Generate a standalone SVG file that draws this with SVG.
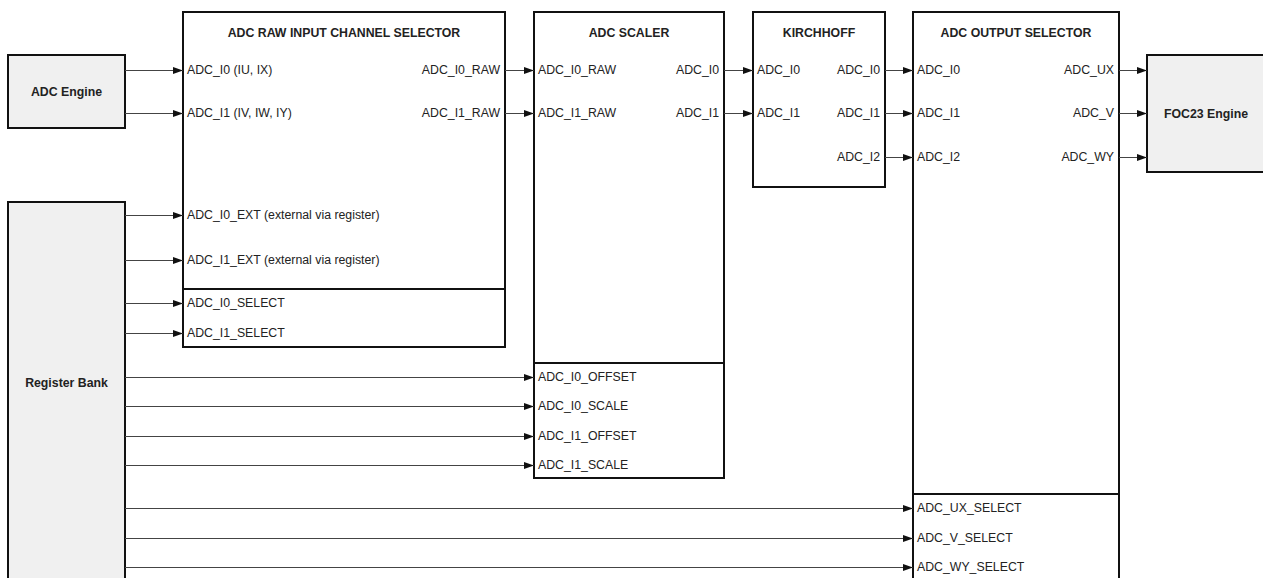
<svg xmlns="http://www.w3.org/2000/svg" width="1263" height="578" viewBox="0 0 1263 578">
  <defs>
    <marker id="arr" markerUnits="userSpaceOnUse" markerWidth="10" markerHeight="7" refX="10" refY="3.5" orient="auto">
      <path d="M0,0 L10,3.5 L0,7 z" fill="#111"/>
    </marker>
    <style>
      .box{fill:#fff;stroke:#111;stroke-width:2}
      .eng{fill:#f0f0f0;stroke:#111;stroke-width:2}
      .div{stroke:#111;stroke-width:2}
      .title{font-family:"Liberation Sans",Arial,sans-serif;font-size:12.3px;font-weight:bold;fill:#222;text-anchor:middle}
      .lbl{font-family:"Liberation Sans",Arial,sans-serif;font-size:12.3px;fill:#222}
      .r{text-anchor:end}
      .conn line{stroke:#444;stroke-width:1;marker-end:url(#arr)}
    </style>
  </defs>
  <rect width="1263" height="578" fill="#fff"/>

  <g id="adc-engine">
    <rect class="eng" x="8" y="55" width="117" height="73"/>
    <text class="title" x="66.5" y="96">ADC Engine</text>
  </g>

  <g id="register-bank">
    <rect class="eng" x="8" y="202" width="117" height="420"/>
    <text class="title" x="66.5" y="387">Register Bank</text>
  </g>

  <g id="raw-selector">
    <rect class="box" x="183" y="12" width="322" height="335"/>
    <line class="div" x1="183" y1="289" x2="505" y2="289"/>
    <text class="title" x="344" y="37">ADC RAW INPUT CHANNEL SELECTOR</text>
    <text class="lbl" x="187" y="74">ADC_I0 (IU, IX)</text>
    <text class="lbl" x="187" y="117">ADC_I1 (IV, IW, IY)</text>
    <text class="lbl" x="187" y="219">ADC_I0_EXT (external via register)</text>
    <text class="lbl" x="187" y="264">ADC_I1_EXT (external via register)</text>
    <text class="lbl" x="187" y="307">ADC_I0_SELECT</text>
    <text class="lbl" x="187" y="337">ADC_I1_SELECT</text>
    <text class="lbl r" x="500" y="74">ADC_I0_RAW</text>
    <text class="lbl r" x="500" y="117">ADC_I1_RAW</text>
  </g>

  <g id="adc-scaler">
    <rect class="box" x="534" y="12" width="190" height="466"/>
    <line class="div" x1="534" y1="363" x2="724" y2="363"/>
    <text class="title" x="629" y="37">ADC SCALER</text>
    <text class="lbl" x="538" y="74">ADC_I0_RAW</text>
    <text class="lbl" x="538" y="117">ADC_I1_RAW</text>
    <text class="lbl r" x="719" y="74">ADC_I0</text>
    <text class="lbl r" x="719" y="117">ADC_I1</text>
    <text class="lbl" x="538" y="381">ADC_I0_OFFSET</text>
    <text class="lbl" x="538" y="410">ADC_I0_SCALE</text>
    <text class="lbl" x="538" y="440">ADC_I1_OFFSET</text>
    <text class="lbl" x="538" y="469">ADC_I1_SCALE</text>
  </g>

  <g id="kirchhoff">
    <rect class="box" x="753" y="12" width="132" height="175"/>
    <text class="title" x="819" y="37">KIRCHHOFF</text>
    <text class="lbl" x="757" y="74">ADC_I0</text>
    <text class="lbl" x="757" y="117">ADC_I1</text>
    <text class="lbl r" x="880" y="74">ADC_I0</text>
    <text class="lbl r" x="880" y="117">ADC_I1</text>
    <text class="lbl r" x="880" y="161">ADC_I2</text>
  </g>

  <g id="output-selector">
    <rect class="box" x="913" y="12" width="206" height="620"/>
    <line class="div" x1="913" y1="494" x2="1119" y2="494"/>
    <text class="title" x="1016" y="37">ADC OUTPUT SELECTOR</text>
    <text class="lbl" x="917" y="74">ADC_I0</text>
    <text class="lbl" x="917" y="117">ADC_I1</text>
    <text class="lbl" x="917" y="161">ADC_I2</text>
    <text class="lbl r" x="1114" y="74">ADC_UX</text>
    <text class="lbl r" x="1114" y="117">ADC_V</text>
    <text class="lbl r" x="1114" y="161">ADC_WY</text>
    <text class="lbl" x="917" y="512">ADC_UX_SELECT</text>
    <text class="lbl" x="917" y="542">ADC_V_SELECT</text>
    <text class="lbl" x="917" y="571">ADC_WY_SELECT</text>
  </g>

  <g id="foc23-engine">
    <rect class="eng" x="1147" y="55" width="120" height="117"/>
    <text class="title" x="1206" y="118">FOC23 Engine</text>
  </g>

  <g id="connectors" class="conn">
    <line x1="125" y1="70.5" x2="183" y2="70.5"/>
    <line x1="125" y1="113.5" x2="183" y2="113.5"/>
    <line x1="125" y1="215.5" x2="183" y2="215.5"/>
    <line x1="125" y1="260.5" x2="183" y2="260.5"/>
    <line x1="125" y1="303.5" x2="183" y2="303.5"/>
    <line x1="125" y1="333.5" x2="183" y2="333.5"/>
    <line x1="505" y1="70.5" x2="534" y2="70.5"/>
    <line x1="505" y1="113.5" x2="534" y2="113.5"/>
    <line x1="724" y1="70.5" x2="753" y2="70.5"/>
    <line x1="724" y1="113.5" x2="753" y2="113.5"/>
    <line x1="885" y1="70.5" x2="913" y2="70.5"/>
    <line x1="885" y1="113.5" x2="913" y2="113.5"/>
    <line x1="885" y1="157.5" x2="913" y2="157.5"/>
    <line x1="1119" y1="70.5" x2="1147" y2="70.5"/>
    <line x1="1119" y1="113.5" x2="1147" y2="113.5"/>
    <line x1="1119" y1="157.5" x2="1147" y2="157.5"/>
    <line x1="125" y1="377.5" x2="534" y2="377.5"/>
    <line x1="125" y1="406.5" x2="534" y2="406.5"/>
    <line x1="125" y1="436.5" x2="534" y2="436.5"/>
    <line x1="125" y1="465.5" x2="534" y2="465.5"/>
    <line x1="125" y1="508.5" x2="913" y2="508.5"/>
    <line x1="125" y1="538.5" x2="913" y2="538.5"/>
    <line x1="125" y1="567.5" x2="913" y2="567.5"/>
  </g>
</svg>
